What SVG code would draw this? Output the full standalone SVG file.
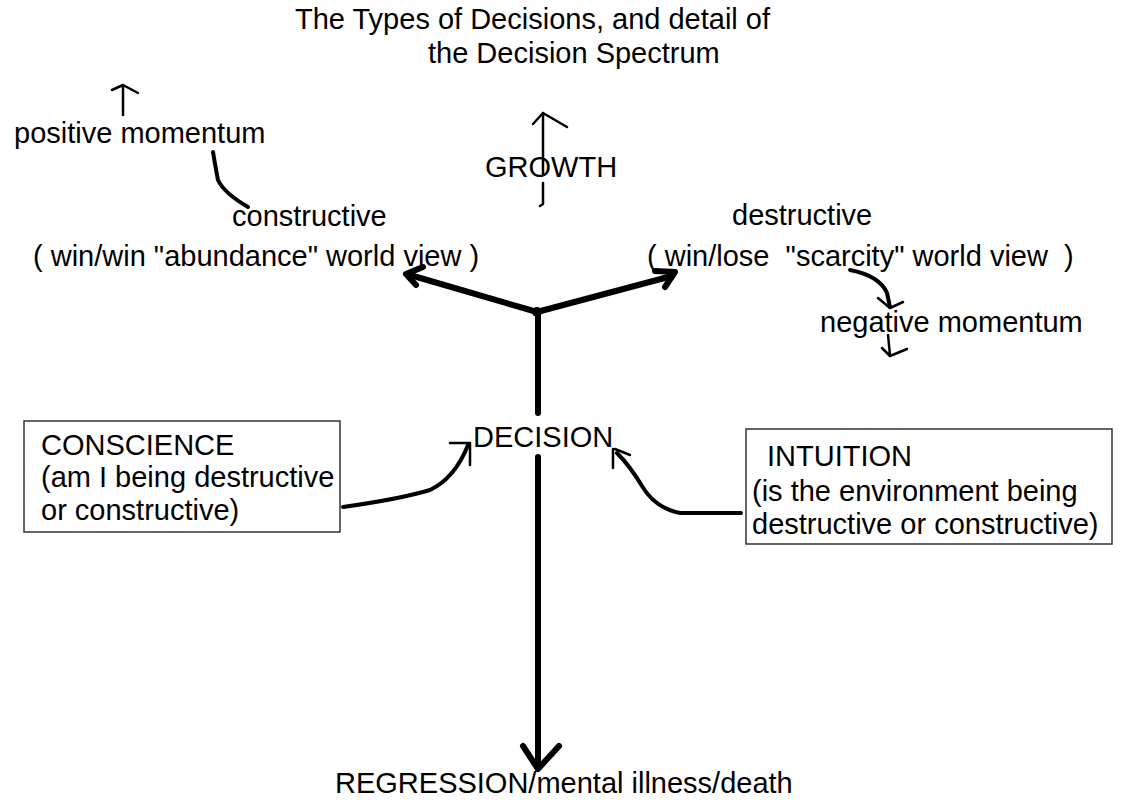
<svg xmlns="http://www.w3.org/2000/svg" width="1123" height="801" viewBox="0 0 1123 801">
<style>
text{font-family:"Liberation Sans",Arial,sans-serif;font-size:29px;fill:#000;white-space:pre}
.box{fill:#fff;stroke:#333;stroke-width:1.5}
.thin{fill:none;stroke:#000;stroke-width:2.5;stroke-linecap:round;stroke-linejoin:round}
.mid{fill:none;stroke:#000;stroke-width:4;stroke-linecap:round;stroke-linejoin:round}
.thick{fill:none;stroke:#000;stroke-width:6;stroke-linecap:round;stroke-linejoin:round}
</style>
<rect width="1123" height="801" fill="#fff"/>
<g id="title">
<text x="295" y="29">The Types of Decisions, and detail of</text>
<text x="428" y="63">the Decision Spectrum</text>
</g>
<g id="positive-momentum"><text x="14" y="143">positive momentum</text></g>
<g id="growth"><text x="485" y="177">GROWTH</text></g>
<g id="constructive">
<text x="232" y="226">constructive</text>
<text x="33" y="266">( win/win "abundance" world view )</text>
</g>
<g id="destructive">
<text x="732" y="225">destructive</text>
<text x="647" y="266">( win/lose  "scarcity" world view  )</text>
</g>
<g id="negative-momentum"><text x="820" y="332">negative momentum</text></g>
<g id="decision"><text x="473" y="447">DECISION</text></g>
<g id="conscience">
<rect class="box" x="24" y="421" width="316" height="111"/>
<text x="41" y="455">CONSCIENCE</text>
<text x="41" y="487">(am I being destructive</text>
<text x="41" y="520">or constructive)</text>
</g>
<g id="intuition">
<rect class="box" x="746" y="429" width="366" height="115"/>
<text x="767" y="466">INTUITION</text>
<text x="752" y="501">(is the environment being</text>
<text x="752" y="534">destructive or constructive)</text>
</g>
<g id="regression"><text x="335" y="793">REGRESSION/mental illness/death</text></g>
<g id="connectors">
<!-- positive momentum up arrow -->
<path class="thin" d="M123 115 L123 86 M112 90 L123 85 L138 93"/>
<!-- curve from positive momentum to constructive -->
<path class="mid" d="M213 152 Q216 170 218 180 Q224 193 248 207"/>
<!-- growth arrow -->
<path class="thin" d="M543 113 L543 175 M543 183 L543 204 L540 206 M533 124 L543 113 L567 127"/>
<!-- Y junction -->
<path class="thick" d="M537 312 L410 275 M537 312 L672 276"/>
<path class="thick" d="M423 267 L406 274 L416 285"/>
<path class="thick" d="M655 271 L675 272 L665 287"/>
<circle cx="537" cy="312" r="5" fill="#000"/>
<path class="thick" d="M538 312 L538 413 M538 457 L538 768"/>
<path class="thick" d="M523 746 L538 769 L559 746"/>
<!-- scarcity to negative momentum -->
<path class="mid" d="M850 270 Q880 276 887 293 L890 307"/>
<path class="thin" d="M878 298 L890 308 L903 302"/>
<path class="thin" d="M888 335 L890 355 M882 348 L890 356 L907 349"/>
<!-- conscience arrow -->
<path class="mid" d="M343 507 Q400 499 430 490 Q455 478 468 445"/>
<path class="thin" d="M450 443 L470 443 L470 465"/>
<!-- intuition arrow -->
<path class="mid" d="M741 513 L680 513 Q655 508 642 486 Q630 466 617 453"/>
<path class="thin" d="M613 449 L613 468 M615 449 L630 455"/>
</g>
</svg>
